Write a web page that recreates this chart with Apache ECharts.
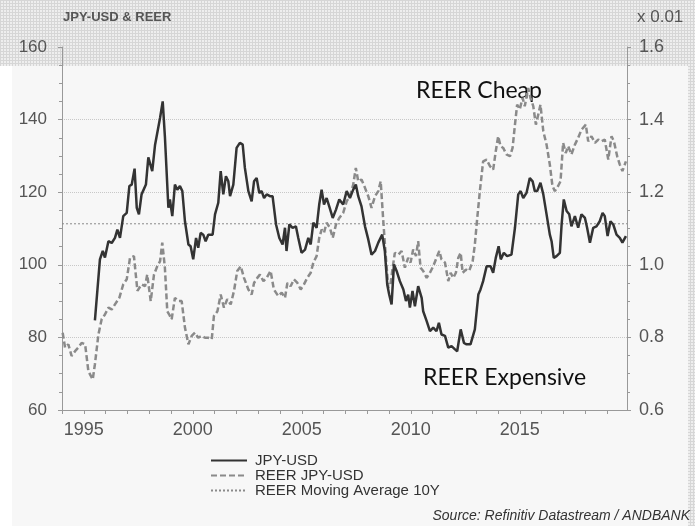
<!DOCTYPE html>
<html>
<head>
<meta charset="utf-8">
<script src="https://cdn.jsdelivr.net/npm/echarts@6/dist/echarts.min.js"></script>
<style>
  html, body { margin: 0; padding: 0; background: #fff; }
  #chart { width: 695px; height: 526px; }
</style>
</head>
<body>
<div id="chart"></div>
<script>
// JPY-USD (left axis)
const jpyDates = [1995.51, 1995.74, 1995.87, 1995.97, 1996.13, 1996.28, 1996.43, 1996.54, 1996.66, 1996.81, 1996.97,
  1997.09, 1997.2, 1997.33, 1997.43, 1997.53, 1997.65, 1997.85, 1997.96, 1998.04, 1998.14, 1998.27, 1998.34, 1998.5,
  1998.62, 1998.72, 1998.8, 1998.88, 1998.95, 1999.06, 1999.18, 1999.29, 1999.41, 1999.52, 1999.64, 1999.8, 1999.9,
  2000.02, 2000.15, 2000.25, 2000.36, 2000.48, 2000.59, 2000.71, 2000.79, 2000.91, 2001.02, 2001.17, 2001.28, 2001.4,
  2001.52, 2001.63, 2001.71, 2001.86, 2002.01, 2002.16, 2002.29, 2002.39, 2002.55, 2002.7, 2002.81, 2002.93, 2003.05,
  2003.16, 2003.27, 2003.39, 2003.54, 2003.66, 2003.82, 2003.97, 2004.12, 2004.23, 2004.3, 2004.43, 2004.58, 2004.73,
  2004.84, 2004.99, 2005.15, 2005.3, 2005.41, 2005.53, 2005.68, 2005.8, 2005.91, 2006.02, 2006.14, 2006.26, 2006.42,
  2006.57, 2006.72, 2006.9, 2007.06, 2007.21, 2007.36, 2007.48, 2007.59, 2007.74, 2007.9, 2008.05, 2008.2, 2008.36,
  2008.51, 2008.69, 2008.81, 2008.92, 2009.01, 2009.12, 2009.23, 2009.35, 2009.5, 2009.66, 2009.78, 2009.88, 2009.96,
  2010.08, 2010.19, 2010.34, 2010.5, 2010.57, 2010.73, 2010.88, 2011.03, 2011.18, 2011.29, 2011.41, 2011.57, 2011.72,
  2011.87, 2012.03, 2012.13, 2012.29, 2012.44, 2012.56, 2012.74, 2012.94, 2013.1, 2013.2, 2013.32, 2013.48, 2013.66,
  2013.78, 2013.9, 2014.03, 2014.13, 2014.27, 2014.42, 2014.62, 2014.78, 2014.93, 2015.04, 2015.16, 2015.31, 2015.46,
  2015.59, 2015.69, 2015.8, 2015.95, 2016.08, 2016.23, 2016.38, 2016.46, 2016.56, 2016.69, 2016.84, 2016.92, 2017.02,
  2017.15, 2017.27, 2017.37, 2017.53, 2017.68, 2017.83, 2017.99, 2018.09, 2018.22, 2018.37, 2018.52, 2018.67, 2018.8,
  2018.9, 2019.03, 2019.16, 2019.29, 2019.44, 2019.59, 2019.71, 2019.87];
const jpyValues = [84.7, 101.5, 103.8, 102, 106.5, 106, 107.4, 109.7, 107.4, 113.4, 114.3,
  121.7, 122.1, 126.5, 115.7, 113.9, 119.4, 122.1, 129.6, 129.9, 125.8, 133.1, 133.6, 140.5,
  145, 135.4, 135, 115.7, 118, 113.4, 122.1, 120.7, 121.7, 120.3, 112, 105.6, 105.1,
  101.5, 107.4, 104.7, 108.8, 108.3, 106.5, 108.3, 108.8, 108.3, 113.9, 117.1, 125.8, 119.4,
  124.4, 123, 118.9, 122.1, 132.2, 133.6, 133.1, 126.7, 120.3, 117.5, 123, 123.9, 119.8,
  120.3, 118.4, 119.4, 118.9, 118.9, 111.1, 107.4, 105.6, 110.2, 103.8, 111.1, 110.2, 110.6,
  107.4, 103.3, 104.2, 107.4, 105.6, 111.6, 110.2, 116.6, 120.7, 116.6, 118.4, 116.1, 112.9,
  115.2, 118, 116.6, 120.3, 118.4, 120.7, 122.1, 118.9, 116.1, 110.6, 107, 102.8, 103.8,
  106.1, 108.3, 103.8, 94.6, 91.8, 89.1, 100.1, 98.3, 95.5, 93.2, 90, 91.8, 88.2,
  92.8, 88.6, 94.1, 90.9, 87.2, 84.5, 81.7, 82.7, 81.7, 84, 80.8, 80.4, 77.2,
  77.6, 76.7, 76.2, 82.2, 78.5, 78.1, 78.1, 82.2, 91.8, 93.2, 95.5, 99.6, 99.6,
  97.8, 101.9, 105.1, 101.5, 103.3, 102.4, 102.8, 110.2, 119.4, 120.3, 118.4, 119.8, 123.9,
  123, 120.3, 120.3, 122.6, 119.4, 113.9, 108.3, 106.5, 101.9, 102.4, 103.3, 111.1, 118,
  114.8, 113.9, 110.6, 113.4, 110.2, 113.9, 112.9, 110.2, 106.1, 110.2, 110.6, 112, 114.3,
  113.4, 107.9, 112, 111.1, 108.3, 107.4, 106.1, 107.9];

// REER JPY-USD (right axis, x 0.01)
const reerDates = [1994.03, 1994.14, 1994.29, 1994.44, 1994.6, 1994.75, 1994.9, 1995.06, 1995.21, 1995.41, 1995.51,
  1995.67, 1995.82, 1995.97, 1996.13, 1996.28, 1996.43, 1996.63, 1996.81, 1996.97, 1997.12, 1997.3, 1997.46, 1997.65,
  1997.81, 1997.91, 1998.07, 1998.22, 1998.37, 1998.5, 1998.6, 1998.72, 1998.83, 1998.92, 1999.03, 1999.18, 1999.34,
  1999.49, 1999.64, 1999.8, 1999.95, 2000.1, 2000.25, 2000.41, 2000.56, 2000.71, 2000.87, 2000.97, 2001.13, 2001.28,
  2001.43, 2001.58, 2001.74, 2001.89, 2002.04, 2002.2, 2002.35, 2002.55, 2002.7, 2002.81, 2002.96, 2003.08, 2003.24,
  2003.39, 2003.57, 2003.72, 2003.92, 2004.08, 2004.23, 2004.34, 2004.49, 2004.64, 2004.8, 2004.95, 2005.1, 2005.25,
  2005.41, 2005.53, 2005.68, 2005.8, 2005.91, 2006.02, 2006.14, 2006.29, 2006.42, 2006.57, 2006.72, 2006.9, 2007.06,
  2007.21, 2007.36, 2007.48, 2007.59, 2007.74, 2007.9, 2008.05, 2008.2, 2008.36, 2008.51, 2008.62, 2008.74, 2008.86,
  2008.97, 2009.07, 2009.17, 2009.27, 2009.43, 2009.58, 2009.73, 2009.88, 2009.99, 2010.11, 2010.24, 2010.34, 2010.45,
  2010.57, 2010.73, 2010.88, 2011.03, 2011.18, 2011.31, 2011.41, 2011.57, 2011.72, 2011.83, 2011.95, 2012.07, 2012.18,
  2012.29, 2012.38, 2012.53, 2012.68, 2012.84, 2012.94, 2013.05, 2013.17, 2013.32, 2013.48, 2013.63, 2013.78, 2013.9,
  2014.01, 2014.12, 2014.24, 2014.39, 2014.55, 2014.67, 2014.78, 2014.88, 2015, 2015.13, 2015.23, 2015.39, 2015.49,
  2015.62, 2015.74, 2015.85, 2015.95, 2016.08, 2016.23, 2016.38, 2016.5, 2016.61, 2016.76, 2016.87, 2016.99, 2017.11,
  2017.22, 2017.37, 2017.53, 2017.68, 2017.83, 2018.03, 2018.14, 2018.29, 2018.45, 2018.6, 2018.75, 2018.9, 2019.06,
  2019.21, 2019.32, 2019.47, 2019.59, 2019.71, 2019.87];
const reerValues = [0.813, 0.772, 0.781, 0.749, 0.762, 0.772, 0.785, 0.781, 0.707, 0.684, 0.726,
  0.808, 0.85, 0.863, 0.882, 0.877, 0.891, 0.909, 0.946, 0.96, 1.019, 1.024, 0.928, 0.946,
  0.941, 0.973, 0.9, 0.973, 0.996, 1.01, 1.061, 0.992, 0.872, 0.863, 0.85, 0.909, 0.9,
  0.9, 0.827, 0.781, 0.804, 0.813, 0.799, 0.804, 0.799, 0.799, 0.795, 0.859, 0.872, 0.918,
  0.882, 0.905, 0.891, 0.928, 0.983, 0.996, 0.964, 0.932, 0.918, 0.95, 0.964, 0.973, 0.955,
  0.964, 0.983, 0.932, 0.914, 0.923, 0.909, 0.95, 0.941, 0.96, 0.95, 0.932, 0.946, 0.964,
  0.978, 1.006, 1.024, 1.074, 1.097, 1.088, 1.116, 1.102, 1.074, 1.111, 1.129, 1.143, 1.175,
  1.189, 1.221, 1.267, 1.23, 1.235, 1.212, 1.189, 1.157, 1.189, 1.203, 1.23, 1.12, 1.019,
  0.937, 0.946, 0.992, 1.033, 1.028, 1.038, 0.992, 1.019, 1.006, 1.042, 1.024, 1.065, 0.992,
  0.983, 0.964, 0.978, 0.996, 1.019, 1.038, 1.015, 1.006, 0.955, 0.978, 0.964, 0.978, 1.019,
  1.033, 0.978, 0.987, 0.983, 1.01, 1.056, 1.129, 1.203, 1.285, 1.29, 1.272, 1.262, 1.313,
  1.354, 1.327, 1.322, 1.304, 1.299, 1.322, 1.386, 1.441, 1.428, 1.46, 1.437, 1.487, 1.46,
  1.437, 1.386, 1.414, 1.441, 1.368, 1.331, 1.276, 1.217, 1.203, 1.217, 1.23, 1.336, 1.308,
  1.327, 1.304, 1.331, 1.35, 1.372, 1.386, 1.34, 1.354, 1.336, 1.345, 1.34, 1.345, 1.29,
  1.354, 1.34, 1.299, 1.276, 1.258, 1.285];

// REER 10Y moving average (flat over the window)
const maDates = [1994, 2019.92];
const maValues = [1.113, 1.113];

const seriesNames = ['JPY-USD', 'REER JPY-USD', 'REER Moving Average 10Y'];
const xTickYears = [1995, 2000, 2005, 2010, 2015];

const zip = (xs, ys) => xs.map((x, i) => [x, ys[i]]);

// fine grey grid pattern for the header band
const pat = document.createElement('canvas');
pat.width = 3; pat.height = 3;
const pctx = pat.getContext('2d');
pctx.fillStyle = '#eeeeee';
pctx.fillRect(0, 0, 3, 3);
pctx.fillStyle = '#d6d6d6';
pctx.fillRect(0, 0, 3, 1);
pctx.fillRect(0, 0, 1, 3);

const labelFont = 'Liberation Sans, Arial, sans-serif';
const chart = echarts.init(document.getElementById('chart'));

const option = {
  backgroundColor: '#ffffff',
  animation: false,
  grid: { left: 62, right: 68, top: 47, bottom: 116 },
  graphic: [
    { type: 'rect', z: -10, silent: true, shape: { x: 12, y: 0, width: 683, height: 526 }, style: { fill: '#f7f7f7' } },
    { type: 'rect', z: -9, silent: true, shape: { x: 0, y: 0, width: 695, height: 66 }, style: { fill: { image: pat, repeat: 'repeat' } } },
    { type: 'rect', z: -9, silent: true, shape: { x: 688, y: 66, width: 7, height: 460 }, style: { fill: { image: pat, repeat: 'repeat' } } },
    { type: 'text', left: 63, top: 11, style: { text: 'JPY-USD & REER', fontFamily: labelFont, fontWeight: 'bold', fontSize: 13, fill: '#555' } },
    { type: 'text', left: 637, top: 9, style: { text: 'x 0.01', fontFamily: labelFont, fontSize: 17, fill: '#555' } },
    { type: 'text', left: 416, top: 79, style: { text: 'REER Cheap', fontFamily: 'Lato, sans-serif', fontSize: 23, fill: '#111' } },
    { type: 'text', left: 423, top: 366, style: { text: 'REER Expensive', fontFamily: 'Lato, sans-serif', fontSize: 23, fill: '#111' } },
    { type: 'text', right: 5, top: 509, style: { text: 'Source: Refinitiv Datastream / ANDBANK', fontFamily: labelFont, fontStyle: 'italic', fontSize: 14, fill: '#333' } }
  ],
  legend: {
    orient: 'vertical',
    left: 210,
    top: 453,
    padding: 0,
    itemGap: 0,
    itemWidth: 36,
    itemHeight: 15,
    data: seriesNames,
    itemStyle: { color: 'rgba(0,0,0,0)', borderWidth: 0, opacity: 0 },
    textStyle: { fontFamily: labelFont, fontSize: 15, lineHeight: 15, color: '#333', padding: [0, 0, 0, 3] }
  },
  xAxis: {
    type: 'value',
    min: 1994,
    max: 2019.92,
    interval: 1,
    axisLine: { lineStyle: { color: '#999' } },
    axisTick: { length: 4, lineStyle: { color: '#999' } },
    splitLine: { show: false },
    axisLabel: {
      fontFamily: labelFont,
      fontSize: 18,
      color: '#555',
      margin: 11,
      showMaxLabel: false,
      formatter: v => (xTickYears.indexOf(v) >= 0 ? String(v) : '')
    }
  },
  yAxis: [
    {
      type: 'value',
      min: 60,
      max: 160,
      interval: 20,
      axisLine: { show: true, lineStyle: { color: '#999' } },
      axisTick: { show: true, length: 4, lineStyle: { color: '#999' } },
      minorTick: { show: true, splitNumber: 4, length: 3, lineStyle: { color: '#999' } },
      splitLine: { show: true, showMinLine: false, showMaxLine: false, lineStyle: { color: '#c8c8c8', type: [1, 1] } },
      axisLabel: { fontFamily: labelFont, fontSize: 17, color: '#555', margin: 15 }
    },
    {
      type: 'value',
      min: 0.6,
      max: 1.6,
      interval: 0.2,
      position: 'right',
      axisLine: { show: true, lineStyle: { color: '#999' } },
      axisTick: { show: true, length: 4, lineStyle: { color: '#999' } },
      minorTick: { show: true, splitNumber: 4, length: 3, lineStyle: { color: '#999' } },
      splitLine: { show: false },
      axisLabel: { fontFamily: labelFont, fontSize: 18, color: '#555', margin: 12, formatter: v => v.toFixed(1) }
    }
  ],
  series: [
    {
      name: seriesNames[2],
      type: 'line',
      yAxisIndex: 1,
      data: zip(maDates, maValues),
      showSymbol: false,
      symbol: 'none',
      lineStyle: { color: '#8a8a8a', width: 1, type: [2, 2] },
      itemStyle: { color: '#8a8a8a' },
      z: 1
    },
    {
      name: seriesNames[1],
      type: 'line',
      yAxisIndex: 1,
      data: zip(reerDates, reerValues),
      showSymbol: false,
      symbol: 'none',
      lineStyle: { color: '#8a8a8a', width: 2.5, type: [6, 3] },
      itemStyle: { color: '#8a8a8a' },
      z: 2
    },
    {
      name: seriesNames[0],
      type: 'line',
      yAxisIndex: 0,
      data: zip(jpyDates, jpyValues),
      showSymbol: false,
      symbol: 'none',
      lineStyle: { color: '#333', width: 2.5 },
      itemStyle: { color: '#333' },
      z: 3
    }
  ]
};

chart.setOption(option);
</script>
</body>
</html>
